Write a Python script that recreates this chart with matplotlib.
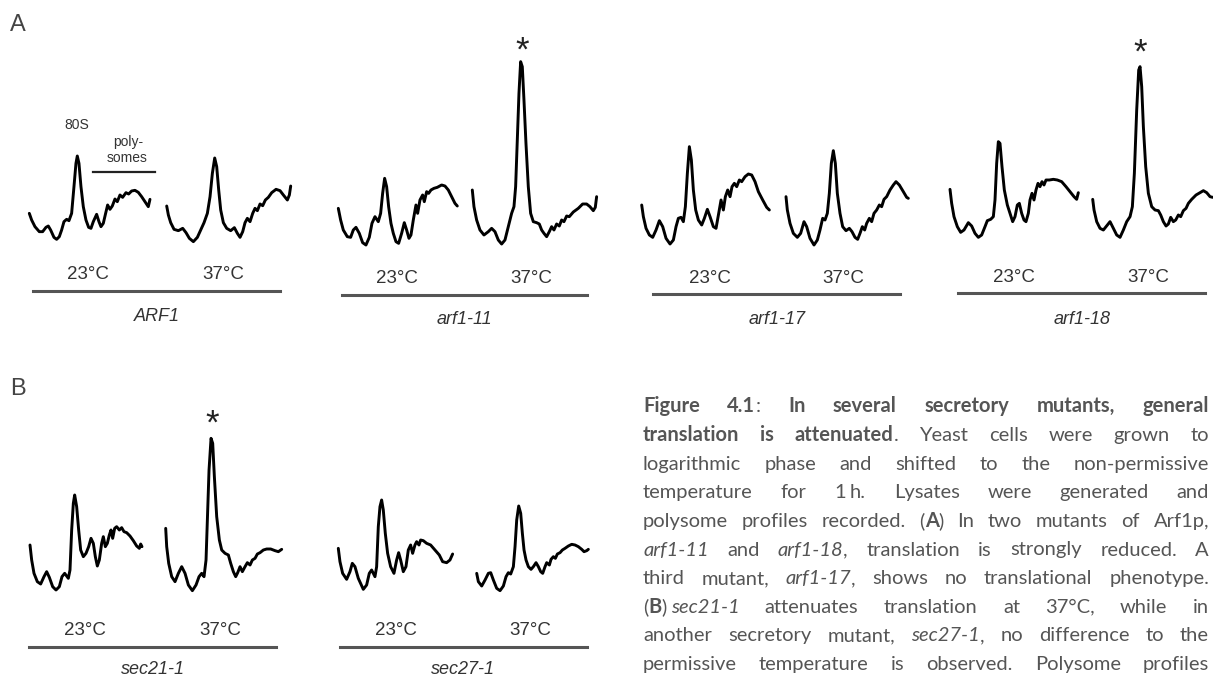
import re

import matplotlib
matplotlib.use("Agg")
import matplotlib.pyplot as plt

W, H = 1213, 679
SANS = "Liberation Sans"
CAP_FONT = "Lato"
COL_TXT = "#333333"
COL_BAR = "#555555"
COL_CAP = "#555555"

# ---- polysome profiles: gradient position / A254 (arbitrary units) ----
ARF1_23_POS = [0, 7, 17, 30, 40, 50, 57, 64, 74, 82, 90, 97, 104, 112, 119, 127, 134, 140, 144, 149, 155, 162, 170, 178, 185, 192, 202, 209, 215, 222, 229, 235, 242, 249, 257, 264, 272, 280, 290, 298, 307, 317, 327, 337, 347, 357, 362]
ARF1_23_A254 = [110, 90, 70, 55, 55, 68, 72, 60, 38, 32, 40, 60, 85, 92, 88, 110, 190, 260, 282, 260, 190, 130, 90, 68, 65, 85, 107, 85, 70, 80, 110, 135, 122, 132, 153, 145, 165, 158, 172, 168, 177, 179, 173, 160, 145, 130, 152]
ARF1_37_POS = [0, 5, 12, 22, 35, 48, 58, 68, 80, 92, 102, 112, 122, 130, 137, 144, 150, 156, 162, 170, 180, 192, 203, 212, 220, 228, 235, 242, 250, 258, 265, 272, 280, 288, 296, 305, 315, 328, 340, 350, 362, 368, 372]
ARF1_37_A254 = [132, 105, 82, 62, 58, 65, 52, 35, 25, 38, 60, 82, 110, 160, 230, 276, 250, 180, 120, 82, 65, 58, 67, 50, 38, 55, 82, 95, 85, 110, 125, 118, 138, 133, 150, 158, 172, 182, 178, 165, 150, 165, 192]

ARF1_11_23_POS = [0, 7, 15, 27, 37, 45, 53, 63, 73, 83, 93, 101, 110, 120, 127, 133, 139, 145, 151, 158, 165, 173, 181, 190, 198, 205, 212, 218, 225, 233, 238, 245, 253, 258, 265, 271, 278, 287, 297, 310, 320, 330, 340, 350, 357]
ARF1_11_23_A254 = [125, 90, 60, 40, 38, 60, 68, 50, 22, 15, 38, 80, 100, 85, 110, 170, 215, 190, 130, 80, 50, 25, 20, 50, 82, 60, 35, 45, 90, 135, 110, 150, 165, 145, 175, 170, 180, 185, 188, 195, 192, 180, 160, 140, 132]
ARF1_11_37_POS = [0, 5, 13, 23, 35, 48, 58, 68, 78, 88, 98, 108, 118, 125, 130, 135, 140, 145, 150, 155, 161, 168, 175, 183, 193, 201, 208, 215, 223, 231, 238, 245, 253, 261, 268, 275, 283, 291, 303, 318, 331, 343, 353, 363, 369, 373]
ARF1_11_37_A254 = [180, 130, 90, 60, 45, 55, 65, 55, 30, 18, 30, 70, 110, 130, 190, 330, 470, 565, 550, 450, 320, 190, 110, 85, 82, 78, 60, 50, 40, 55, 70, 60, 78, 72, 90, 85, 102, 100, 114, 125, 138, 138, 130, 118, 128, 160]

ARF1_17_23_POS = [0, 5, 13, 23, 33, 43, 53, 63, 73, 85, 95, 103, 110, 118, 125, 131, 137, 143, 149, 155, 162, 170, 180, 188, 197, 205, 215, 223, 231, 238, 245, 251, 258, 265, 271, 278, 285, 293, 300, 310, 320, 330, 340, 350, 363, 375, 383]
ARF1_17_23_A254 = [135, 100, 65, 45, 38, 60, 88, 70, 35, 18, 30, 70, 95, 98, 85, 130, 230, 310, 270, 180, 120, 90, 75, 95, 122, 100, 70, 65, 110, 150, 120, 160, 180, 160, 190, 200, 190, 210, 205, 220, 228, 225, 205, 175, 150, 128, 120]
ARF1_17_37_POS = [0, 4, 12, 22, 34, 44, 54, 62, 72, 84, 94, 102, 110, 117, 124, 130, 136, 142, 148, 154, 162, 170, 180, 190, 198, 207, 215, 222, 229, 236, 242, 250, 257, 264, 272, 280, 287, 294, 302, 312, 322, 330, 340, 352, 362, 367]
ARF1_17_37_A254 = [160, 120, 80, 50, 38, 50, 85, 70, 35, 15, 30, 60, 95, 90, 110, 170, 260, 298, 260, 170, 110, 70, 58, 65, 55, 38, 32, 50, 70, 60, 80, 95, 85, 110, 120, 135, 130, 152, 160, 180, 195, 205, 195, 175, 158, 155]

ARF1_18_23_POS = [0, 5, 12, 22, 32, 42, 55, 65, 75, 85, 95, 105, 112, 122, 130, 135, 140, 145, 150, 156, 163, 172, 180, 188, 195, 202, 208, 215, 222, 228, 235, 240, 246, 252, 258, 264, 270, 276, 282, 288, 298, 310, 322, 335, 348, 360, 372, 380, 385]
ARF1_18_23_A254 = [182, 140, 100, 70, 53, 60, 82, 72, 50, 38, 45, 70, 88, 92, 100, 150, 260, 325, 320, 250, 180, 135, 110, 85, 100, 135, 140, 110, 90, 85, 110, 150, 170, 150, 180, 200, 190, 205, 195, 210, 210, 212, 210, 205, 190, 175, 160, 152, 172]
ARF1_18_37_POS = [0, 4, 12, 22, 32, 44, 52, 62, 72, 82, 92, 102, 112, 119, 125, 132, 138, 142, 147, 152, 159, 167, 177, 187, 197, 204, 212, 220, 227, 234, 242, 249, 257, 264, 272, 280, 287, 297, 310, 322, 332, 342, 352, 360]
ARF1_18_37_A254 = [152, 120, 85, 65, 60, 75, 85, 65, 45, 38, 60, 85, 100, 130, 230, 420, 540, 550, 490, 370, 250, 170, 130, 120, 118, 105, 85, 72, 78, 98, 85, 90, 105, 100, 118, 125, 140, 152, 165, 172, 178, 172, 160, 158]

SEC21_23_POS = [0, 5, 12, 22, 32, 42, 50, 58, 68, 78, 88, 96, 104, 115, 120, 125, 130, 134, 140, 146, 152, 160, 168, 176, 183, 190, 196, 202, 208, 215, 220, 226, 232, 238, 243, 248, 254, 260, 268, 275, 282, 290, 300, 310, 320, 328, 332, 336]
SEC21_23_A254 = [225, 180, 140, 115, 108, 130, 145, 128, 100, 90, 100, 130, 140, 125, 150, 270, 350, 375, 340, 270, 210, 190, 200, 220, 245, 230, 190, 162, 180, 230, 250, 220, 230, 255, 270, 245, 275, 280, 270, 277, 265, 262, 252, 238, 222, 215, 228, 220]
SEC21_37_POS = [0, 3, 9, 18, 28, 38, 48, 58, 68, 80, 91, 100, 108, 115, 121, 125, 130, 136, 141, 146, 153, 161, 168, 178, 188, 195, 203, 210, 216, 223, 230, 238, 245, 253, 260, 268, 275, 283, 293, 303, 315, 328, 338, 348]
SEC21_37_A254 = [275, 220, 170, 130, 115, 140, 160, 140, 105, 88, 105, 130, 140, 130, 180, 300, 450, 545, 530, 430, 310, 240, 210, 200, 195, 170, 145, 130, 142, 160, 145, 160, 172, 165, 180, 185, 198, 202, 210, 213, 213, 208, 205, 212]

SEC27_23_POS = [0, 5, 13, 25, 35, 42, 50, 60, 75, 85, 93, 100, 110, 115, 120, 125, 130, 135, 141, 148, 157, 167, 175, 181, 187, 195, 203, 210, 217, 223, 230, 235, 242, 247, 255, 265, 277, 290, 303, 313, 325, 335, 343]
SEC27_23_A254 = [215, 175, 140, 122, 145, 170, 160, 125, 92, 105, 140, 150, 130, 160, 280, 340, 360, 330, 260, 200, 160, 140, 180, 202, 180, 145, 160, 210, 225, 200, 225, 235, 225, 240, 238, 230, 225, 210, 195, 175, 172, 180, 198]
SEC27_37_POS = [0, 5, 15, 25, 35, 42, 50, 60, 70, 80, 88, 95, 102, 110, 115, 120, 126, 132, 137, 142, 148, 155, 163, 170, 178, 185, 192, 198, 205, 210, 218, 223, 230, 236, 242, 250, 257, 265, 275, 285, 295, 305, 315, 322, 330, 335]
SEC27_37_A254 = [140, 115, 102, 120, 140, 142, 120, 95, 88, 102, 130, 142, 138, 160, 220, 300, 342, 320, 260, 210, 180, 160, 152, 160, 172, 160, 145, 140, 160, 172, 165, 182, 190, 185, 198, 202, 210, 215, 222, 227, 225, 220, 212, 205, 208, 212]

TEMPS = ["23°C", "37°C"]
STRAINS_A = ["ARF1", "arf1-11", "arf1-17", "arf1-18"]
STRAINS_B = ["sec21-1", "sec27-1"]
STARRED = ["arf1-11", "arf1-18", "sec21-1"]

CAPTION = [
    "*Figure* *4.1*: *In* *several* *secretory* *mutants,* *general*",
    "*translation* *is* *attenuated*. Yeast cells were grown to",
    "logarithmic phase and shifted to the non-permissive",
    "temperature for 1~h. Lysates were generated and",
    "polysome profiles recorded. (*A*) In two mutants of Arf1p,",
    "_arf1-11_ and _arf1-18_, translation is strongly reduced. A",
    "third mutant, _arf1-17_, shows no translational phenotype.",
    "(*B*)~_sec21-1_ attenuates translation at 37°C, while in",
    "another secretory mutant, _sec27-1_, no difference to the",
    "permissive temperature is observed. Polysome profiles",
]

# ---- layout (pixels, y measured from top) ----
# strain: (23°C trace x, 37°C trace x, 23°C label x, 37°C label x, label y,
#          bar x0, bar x1, bar y, name y, star x, star y)
LAYOUT = {
    "ARF1":    (29.3, 166.7, 88.0, 223.0, 272.0, 33.3, 280.0, 290.7, 315, None, None),
    "arf1-11": (338.3, 472.3, 396.7, 531.7, 276.5, 341.7, 586.7, 295.0, 318, 521.7, 41.7),
    "arf1-17": (641.7, 786.0, 710.0, 843.3, 276.5, 653.3, 900.0, 294.0, 318, None, None),
    "arf1-18": (950.0, 1092.7, 1014.0, 1148.3, 275.5, 958.3, 1205.0, 293.3, 318, 1140.0, 43.3),
    "sec21-1": (30.0, 165.7, 85.0, 220.0, 628.3, 29.3, 276.0, 646.7, 668, 211.7, 415.0),
    "sec27-1": (338.3, 476.7, 396.0, 530.0, 628.3, 340.0, 586.7, 647.3, 668, None, None),
}
DATA = {
    "ARF1": ((ARF1_23_POS, ARF1_23_A254), (ARF1_37_POS, ARF1_37_A254)),
    "arf1-11": ((ARF1_11_23_POS, ARF1_11_23_A254), (ARF1_11_37_POS, ARF1_11_37_A254)),
    "arf1-17": ((ARF1_17_23_POS, ARF1_17_23_A254), (ARF1_17_37_POS, ARF1_17_37_A254)),
    "arf1-18": ((ARF1_18_23_POS, ARF1_18_23_A254), (ARF1_18_37_POS, ARF1_18_37_A254)),
    "sec21-1": ((SEC21_23_POS, SEC21_23_A254), (SEC21_37_POS, SEC21_37_A254)),
    "sec27-1": ((SEC27_23_POS, SEC27_23_A254), (SEC27_37_POS, SEC27_37_A254)),
}
ROWS = {"A": (0, 250), "B": (380, 620)}  # top, baseline of trace area

fig = plt.figure(figsize=(W / 100, H / 100), dpi=100)
fig.patch.set_facecolor("white")


def fx(px):
    return px / W


def fy(py):
    return 1 - py / H


def cap_half(size_pt, ratio=0.716):
    return 0.5 * ratio * size_pt * 100 / 72


def label(x, y, s, size, **kw):
    # y = visual middle of the capitals
    fig.text(fx(x), fy(y + cap_half(size)), s, fontsize=size, ha="center",
             va="baseline", family=SANS, color=kw.pop("color", COL_TXT), **kw)


def trace(x0, row, pos, a254):
    top, base = ROWS[row]
    wu = max(pos)
    ax = fig.add_axes([fx(x0), fy(base), wu / 3 / W, (base - top) / H])
    ax.plot(pos, a254, color="black", lw=2.1, solid_joinstyle="round",
            solid_capstyle="round", clip_on=False)
    ax.set_xlim(0, wu)
    ax.set_ylim(0, (base - top) * 3)
    ax.axis("off")


for row, strains in (("A", STRAINS_A), ("B", STRAINS_B)):
    for s in strains:
        x23, x37, lx23, lx37, ly, bx0, bx1, by, ny, sx, sy = LAYOUT[s]
        (p23, a23), (p37, a37) = DATA[s]
        trace(x23, row, p23, a23)
        trace(x37, row, p37, a37)
        label(lx23, ly, TEMPS[0], 13.5)
        label(lx37, ly, TEMPS[1], 13.5)
        fig.add_artist(plt.Line2D([fx(bx0), fx(bx1)], [fy(by), fy(by)], color=COL_BAR,
                                  lw=2.2, transform=fig.transFigure))
        label((bx0 + bx1) / 2, ny, s, 13, style="italic")
        if s in STARRED:
            fig.text(fx(sx), fy(sy + 0.55 * 25 * 100 / 72), "*", fontsize=25, ha="center",
                     va="baseline", family=SANS, color="#222222")

# 80S / polysomes annotation on the ARF1 23°C profile
label(77, 124, "80S", 10)
label(128, 141, "poly-", 10)
label(127, 157, "somes", 10)
fig.add_artist(plt.Line2D([fx(92.7), fx(155)], [fy(172.3), fy(172.3)], color="#222222",
                          lw=1.6, transform=fig.transFigure))

# panel letters
label(18, 23, "A", 17, color="#444444")
label(18, 387, "B", 17, color="#444444")

# ---- justified caption ----
CAP_L, CAP_R, CAP_TOP, CAP_STEP = 643, 1209, 405, 28.65
renderer = fig.canvas.get_renderer()


def parse(line):
    toks = []
    for word in line.split(" "):
        pieces = []
        for seg in re.findall(r"\*[^*]+\*|_[^_]+_|~|[^*_~]+", word):
            if seg == "~":
                pieces.append(("~", "gap"))
            elif seg.startswith("*"):
                pieces.append((seg[1:-1], "bold"))
            elif seg.startswith("_"):
                pieces.append((seg[1:-1], "italic"))
            else:
                pieces.append((seg, "normal"))
        toks.append(pieces)
    return toks


def make_piece(txt, sty, size, y):
    return fig.text(0, y, txt, fontsize=size, family=CAP_FONT, ha="left", va="baseline",
                    color=COL_CAP, weight="bold" if sty == "bold" else "normal",
                    style="italic" if sty == "italic" else "normal")


def line_widths(toks, size):
    made, total = [], 0.0
    for tok in toks:
        row = []
        for txt, sty in tok:
            if sty == "gap":
                w = 0.2 * size * 100 / 72
                row.append((None, w))
            else:
                t = make_piece(txt, sty, size, 0)
                w = t.get_window_extent(renderer).width
                row.append((t, w))
            total += w
        made.append(row)
    return made, total


# fit the font so the tightest line still has a normal word space
parsed = [parse(l) for l in CAPTION]
ref = 10.0
need = 0
for toks in parsed:
    made, tot = line_widths(toks, ref)
    for row in made:
        for t, _ in row:
            if t is not None:
                t.remove()
    need = max(need, tot + (len(toks) - 1) * 0.26 * ref * 100 / 72)
size = min(ref * (CAP_R - CAP_L) / need, 14.5)

for i, toks in enumerate(parsed):
    y = fy(CAP_TOP + i * CAP_STEP + cap_half(size, 0.72))
    made, tot = line_widths(toks, size)
    gap = (CAP_R - CAP_L - tot) / (len(toks) - 1)
    x = CAP_L
    for row in made:
        for t, w in row:
            if t is not None:
                t.set_position((fx(x), y))
            x += w
        x += gap

fig.savefig("out.png", dpi=100, facecolor="white")
